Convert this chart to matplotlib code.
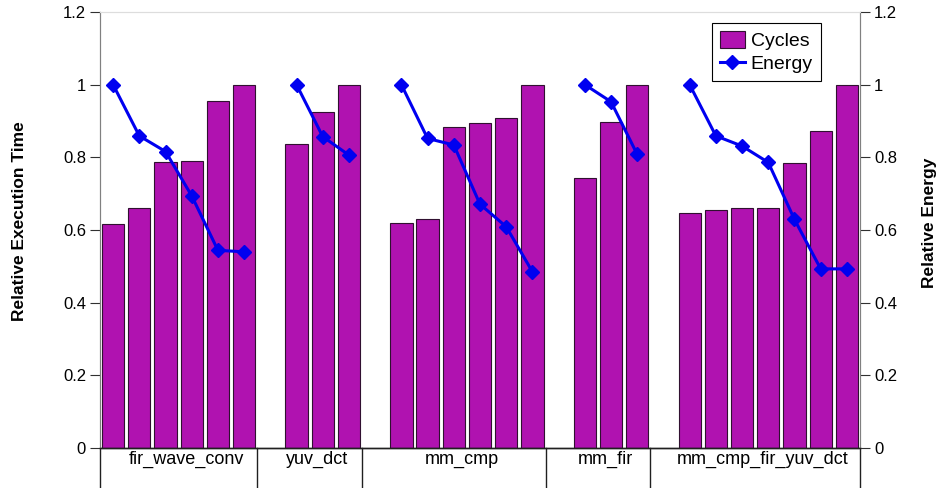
import matplotlib
matplotlib.use('Agg')
import matplotlib.pyplot as plt
from matplotlib.lines import Line2D
from matplotlib.patches import Patch
from matplotlib.ticker import FuncFormatter
import numpy as np

plt.rcParams.update({
    'font.family': ['Liberation Sans', 'DejaVu Sans'],
    'font.size': 12,
})

# data
groups = ['fir_wave_conv', 'yuv_dct', 'mm_cmp', 'mm_fir', 'mm_cmp_fir_yuv_dct']
cycles = [
    [0.617, 0.661, 0.787, 0.791, 0.954, 1.0],
    [0.838, 0.925, 1.0],
    [0.620, 0.630, 0.884, 0.894, 0.908, 1.0],
    [0.744, 0.896, 1.0],
    [0.646, 0.656, 0.660, 0.660, 0.784, 0.873, 1.0],
]
energy = [
    [1.0, 0.859, 0.816, 0.694, 0.544, 0.540],
    [1.0, 0.857, 0.806],
    [1.0, 0.852, 0.834, 0.671, 0.609, 0.485],
    [1.0, 0.953, 0.808],
    [1.0, 0.859, 0.831, 0.786, 0.629, 0.493, 0.493],
]
y_ticks = [0, 0.2, 0.4, 0.6, 0.8, 1.0, 1.2]

bar_color = '#B012B0'
line_color = '#0000F0'

fig = plt.figure(figsize=(9.38, 4.88), dpi=100)
ax = fig.add_axes([100/938, 1 - 448/488, 760/938, 436/488])
ax2 = ax.twinx()

# slot layout: one empty slot between groups
slot = 0
bounds = [-0.5]
for gi, (cyc, en) in enumerate(zip(cycles, energy)):
    if gi > 0:
        slot += 1
    x = np.arange(slot, slot + len(cyc))
    ax.bar(x, cyc, width=0.85, color=bar_color, edgecolor='#301030', linewidth=0.8, zorder=2)
    ax2.plot(x, en, color=line_color, linewidth=2.2, marker='D', markersize=7,
             markerfacecolor=line_color, markeredgecolor=line_color, zorder=3)
    slot += len(cyc)
    bounds.append(slot - 0.5)

n_slots = slot
ax.set_xlim(-0.5, n_slots - 0.5)
ax2.set_xlim(-0.5, n_slots - 0.5)
ax.set_ylim(0, 1.2)
ax2.set_ylim(0, 1.2)
ax.set_xticks([])

# group separators and labels below axis
trans = ax.get_xaxis_transform()
for b in bounds:
    ax.plot([b, b], [0, -0.09], transform=trans, color='#202020', linewidth=1.0, clip_on=False)
for gi, name in enumerate(groups):
    center = (bounds[gi] + bounds[gi + 1]) / 2 + 0.3
    ax.text(center, -0.006, name, transform=trans, ha='center', va='top', fontsize=13)

fmt = FuncFormatter(lambda v, p: '%g' % round(v, 1))
for a in (ax, ax2):
    a.set_yticks(y_ticks)
    a.yaxis.set_major_formatter(fmt)
    a.tick_params(axis='y', direction='out', length=7, width=0.8, color='#303030', labelsize=12, pad=3)
ax2.tick_params(axis='x', length=0)

for a in (ax, ax2):
    a.spines['top'].set_color('#dddddd')
    a.spines['top'].set_linewidth(0.8)
    a.spines['left'].set_color('#808080')
    a.spines['right'].set_color('#808080')
    a.spines['bottom'].set_color('#202020')
    a.spines['bottom'].set_linewidth(1.0)

fig.text(20/938, 1 - 221/488, 'Relative Execution Time', rotation=90, ha='center', va='center',
         fontsize=12.5, fontweight='bold')
fig.text(929/938, 1 - 223/488, 'Relative Energy', rotation=90, ha='center', va='center',
         fontsize=12.5, fontweight='bold')

handles = [
    Patch(facecolor=bar_color, edgecolor='#301030', linewidth=0.8, label='Cycles'),
    Line2D([0], [0], color=line_color, linewidth=2.2, marker='D', markersize=7, label='Energy'),
]
leg = ax2.legend(handles=handles, loc='upper left', bbox_to_anchor=(0.805, 0.975), borderaxespad=0,
                 fancybox=False, framealpha=1, edgecolor='black', fontsize=14,
                 handlelength=1.3, handleheight=1.0, handletextpad=0.3, borderpad=0.4,
                 labelspacing=0.2)
leg.get_frame().set_linewidth(0.8)

fig.savefig('out.png', dpi=100)
